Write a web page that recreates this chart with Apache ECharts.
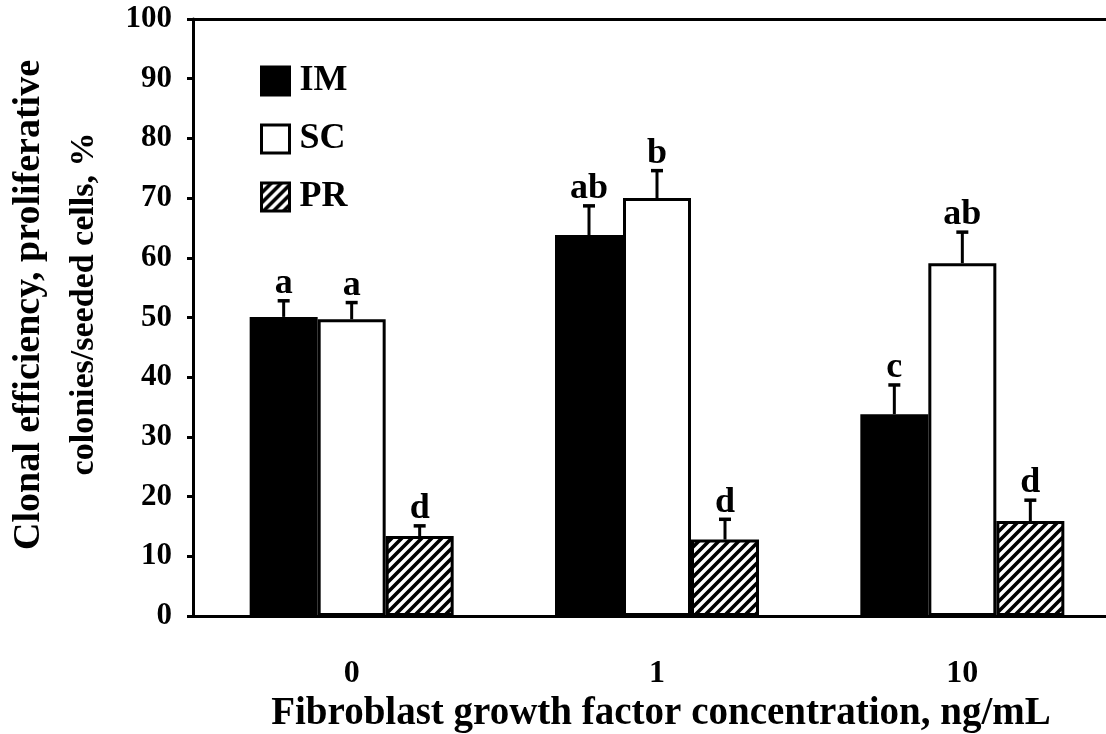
<!DOCTYPE html>
<html>
<head>
<meta charset="utf-8">
<script src="https://cdn.jsdelivr.net/npm/echarts@6/dist/echarts.min.js"></script>
<style>
  html, body { margin: 0; padding: 0; background: #fff; }
  #chart { width: 1106px; height: 734px; }
</style>
</head>
<body>
<div id="chart"></div>
<script>
// FGF concentration groups (ng/mL)
const categories = ['0', '1', '10'];

// Clonal efficiency (%) with SEM and significance letters, per cell type
const imMean = [50.1, 63.8, 33.8];
const imErr = [2.7, 4.9, 4.9];
const imLetters = ['a', 'ab', 'c'];

const scMean = [49.7, 70.0, 59.1];
const scErr = [2.8, 4.6, 5.2];
const scLetters = ['a', 'b', 'ab'];

const prMean = [13.4, 12.8, 15.9];
const prErr = [1.7, 3.4, 3.5];
const prLetters = ['d', 'd', 'd'];

const seriesNames = ['IM', 'SC', 'PR'];

const FONT = '"Liberation Serif", "DejaVu Serif", serif';
const BAR_W = 68;

// diagonal hatch tile for the PR bars
function hatchTile() {
  const c = document.createElement('canvas');
  c.width = 10; c.height = 10;
  const g = c.getContext('2d');
  g.fillStyle = '#fff';
  g.fillRect(0, 0, 10, 10);
  g.strokeStyle = '#000';
  g.lineWidth = 3.6;
  g.beginPath();
  g.moveTo(-5, 5); g.lineTo(5, -5);
  g.moveTo(0, 10); g.lineTo(10, 0);
  g.moveTo(5, 15); g.lineTo(15, 5);
  g.stroke();
  return c;
}

const fills = ['#000', '#fff', { image: hatchTile(), repeat: 'repeat' }];
const means = [imMean, scMean, prMean];
const errs = [imErr, scErr, prErr];
const letters = [imLetters, scLetters, prLetters];

const barSeries = seriesNames.map((name, i) => ({
  name: name,
  type: 'bar',
  xAxisIndex: 1,
  yAxisIndex: 1,
  barWidth: BAR_W,
  barGap: '0%',
  data: means[i],
  itemStyle: { color: fills[i], borderColor: '#000', borderWidth: 3 },
  emphasis: { disabled: true },
  z: 2
}));

// upper error bar plus significance letter for each bar
const errSeries = seriesNames.map((name, i) => ({
  name: name + ' SEM',
  type: 'custom',
  xAxisIndex: 1,
  yAxisIndex: 1,
  z: 5,
  silent: true,
  data: categories.map((c, k) => [k, means[i][k], errs[i][k], letters[i][k]]),
  renderItem: function (params, api) {
    const k = api.value(0);
    const m = api.value(1);
    const e = api.value(2);
    const base = api.coord([k, m]);
    const top = api.coord([k, m + e]);
    const x = base[0] + (i - 1) * BAR_W;
    const lbl = letters[i][k];
    return {
      type: 'group',
      children: [
        { type: 'line', shape: { x1: x, y1: base[1], x2: x, y2: top[1] },
          style: { stroke: '#000', lineWidth: 3 } },
        { type: 'line', shape: { x1: x - 6, y1: top[1], x2: x + 6, y2: top[1] },
          style: { stroke: '#000', lineWidth: 3.5 } },
        { type: 'text', x: x, y: top[1] + 1,
          style: { text: lbl, fill: '#000', align: 'center', verticalAlign: 'bottom',
                   font: 'bold 36px ' + FONT } }
      ]
    };
  }
}));

const chart = echarts.init(document.getElementById('chart'));
chart.setOption({
  animation: false,
  backgroundColor: '#fff',
  grid: [
    // frame grid: y axis, baseline and top rule
    { left: 193, right: -9, top: 19, bottom: 118, outerBoundsMode: 'none' },
    // plotting grid for the bars
    { left: 199, right: -9, top: 19, bottom: 118, outerBoundsMode: 'none' }
  ],
  legend: {
    data: seriesNames,
    orient: 'vertical',
    left: 255,
    top: 58,
    itemWidth: 28,
    itemHeight: 28,
    itemGap: 22,
    icon: 'rect',
    selectedMode: false,
    itemStyle: { borderColor: '#000', borderWidth: 3 },
    textStyle: { fontFamily: FONT, fontWeight: 'bold', fontSize: 36, color: '#000',
                 padding: [0, 0, 0, 5] }
  },
  xAxis: [
    { type: 'category', gridIndex: 0, data: categories, position: 'bottom',
      axisLine: { lineStyle: { color: '#000', width: 3 } },
      axisTick: { show: false }, axisLabel: { show: false }, splitLine: { show: false } },
    { type: 'category', gridIndex: 1, data: categories, position: 'bottom',
      axisLine: { show: false }, axisTick: { show: false }, splitLine: { show: false },
      axisLabel: { fontFamily: FONT, fontWeight: 'bold', fontSize: 32, color: '#000', margin: 42 },
      name: 'Fibroblast growth factor concentration, ng/mL',
      nameLocation: 'middle', nameGap: 67,
      nameTextStyle: { fontFamily: FONT, fontWeight: 'bold', fontSize: 39, color: '#000',
                       padding: [0, 0, 0, 8] } },
    { type: 'category', gridIndex: 0, data: categories, position: 'top',
      axisLine: { lineStyle: { color: '#000', width: 3 } },
      axisTick: { show: false }, axisLabel: { show: false }, splitLine: { show: false } }
  ],
  yAxis: [
    { type: 'value', gridIndex: 0, min: 0, max: 100, interval: 10,
      axisLine: { show: true, lineStyle: { color: '#000', width: 3 } },
      axisTick: { show: true, inside: false, length: 6, lineStyle: { color: '#000', width: 3 } },
      axisLabel: { fontFamily: FONT, fontWeight: 'bold', fontSize: 31, color: '#000', margin: 21 },
      splitLine: { show: false } },
    { type: 'value', gridIndex: 1, min: 0, max: 100, interval: 10, show: false,
      splitLine: { show: false } }
  ],
  graphic: [
    // two-line y-axis title, read bottom to top
    { type: 'text', x: 29, y: 305, rotation: Math.PI / 2,
      style: { text: 'Clonal efficiency, proliferative',
               font: 'bold 38px ' + FONT, fill: '#000', align: 'center', verticalAlign: 'middle' } },
    { type: 'text', x: 84, y: 304, rotation: Math.PI / 2,
      style: { text: 'colonies/seeded cells, %',
               font: 'bold 34px ' + FONT, fill: '#000', align: 'center', verticalAlign: 'middle' } }
  ],
  series: barSeries.concat(errSeries)
});
</script>
</body>
</html>
